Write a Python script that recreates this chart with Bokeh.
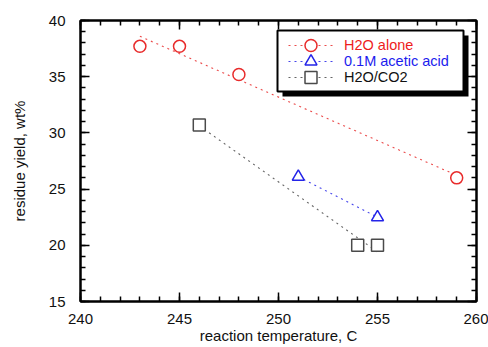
import numpy as np
from bokeh.plotting import figure
from bokeh.models import (Range1d, LinearAxis, FixedTicker, Legend, LegendItem,
                          BoxAnnotation)
from bokeh.embed import file_html
from bokeh.resources import INLINE

# ---------------- data ----------------
temp_h2o = [243, 245, 248, 259]
yield_h2o = [37.7, 37.7, 35.2, 26.0]

temp_acetic = [251, 255]
yield_acetic = [26.1, 22.5]

temp_co2 = [246, 254, 255]
yield_co2 = [30.7, 20.0, 20.0]

series_names = ["H2O alone", "0.1M acetic acid", "H2O/CO2"]
x_ticks = [240, 245, 250, 255, 260]
y_ticks = [15, 20, 25, 30, 35, 40]
x_title = "reaction temperature, C"
y_title = "residue yield, wt%"

# ---------------- style ----------------
FONT = "Liberation Sans"
RED = "#e82c2c"
BLUE = "#2424e8"
GRAY = "#4a4a4a"
TXT_COLORS = ["#ee1c1c", "#1c1cee", "#111111"]

p = figure(width=488, height=347, output_backend="svg", toolbar_location=None,
           x_range=Range1d(x_ticks[0], x_ticks[-1]),
           y_range=Range1d(y_ticks[0], y_ticks[-1]),
           min_border_left=80, min_border_right=12, min_border_top=20,
           min_border_bottom=46, x_axis_label=x_title, y_axis_label=y_title)
p.grid.visible = False
p.outline_line_color = "black"
p.outline_line_width = 2
p.background_fill_color = "white"
p.border_fill_color = "white"

x_minor = list(np.arange(x_ticks[0], x_ticks[-1] + 1, 1))
y_minor = list(np.arange(y_ticks[0], y_ticks[-1] + 1, 1))


def style_axis(ax, ticks, minor, labels=True):
    ax.ticker = FixedTicker(ticks=ticks, minor_ticks=minor)
    ax.axis_line_width = 2
    ax.axis_line_color = "black"
    ax.major_tick_in = 9
    ax.major_tick_out = 0
    ax.minor_tick_in = 5
    ax.minor_tick_out = 0
    ax.major_tick_line_width = 1.5
    ax.minor_tick_line_width = 1.5
    ax.major_tick_line_color = "black"
    ax.minor_tick_line_color = "black"
    ax.major_label_text_font = FONT
    ax.axis_label_text_font = FONT
    ax.axis_label_text_font_size = "15px"
    ax.axis_label_text_font_style = "normal"
    ax.axis_label_text_color = "#111111"
    if labels:
        ax.major_label_text_font_size = "15px"
        ax.major_label_text_color = "#111111"
    else:
        ax.major_label_text_font_size = "1px"
        ax.major_label_text_color = None
        ax.major_label_standoff = 0


style_axis(p.xaxis[0], x_ticks, x_minor)
p.xaxis[0].major_label_standoff = 12
p.xaxis[0].axis_label_standoff = 0
style_axis(p.yaxis[0], y_ticks, y_minor)
p.yaxis[0].major_label_standoff = 15
p.yaxis[0].axis_label_standoff = 18

top_ax = LinearAxis()
style_axis(top_ax, x_ticks, x_minor, labels=False)
p.add_layout(top_ax, "above")
right_ax = LinearAxis()
style_axis(right_ax, y_ticks, y_minor, labels=False)
p.add_layout(right_ax, "right")


def fit_line(xs, ys):
    k, b = np.polyfit(xs, ys, 1)
    xf = np.array([min(xs), max(xs)], dtype=float)
    return xf, k * xf + b


series = [
    (temp_h2o, yield_h2o, RED, "circle"),
    (temp_acetic, yield_acetic, BLUE, "triangle"),
    (temp_co2, yield_co2, GRAY, "square"),
]

fit_renderers = []
for xs, ys, col, mk in series:
    xf, yf = fit_line(xs, ys)
    lr = p.line(xf, yf, line_color=col, line_width=1.1, line_alpha=0.85,
                line_dash="2 4")
    fit_renderers.append(lr)
marker_renderers = []
for xs, ys, col, mk in series:
    mr = p.scatter(xs, ys, marker=mk, size=12, line_color=col, line_width=1.5,
                   fill_color="white")
    marker_renderers.append(mr)

# legend frame with drop shadow (frame-relative pixel units)
p.add_layout(BoxAnnotation(left=202, right=388, bottom=205, top=266,
                           left_units="screen", right_units="screen",
                           bottom_units="screen", top_units="screen",
                           fill_color="black", fill_alpha=1, line_color=None))
p.add_layout(BoxAnnotation(left=197, right=383, bottom=210, top=271,
                           left_units="screen", right_units="screen",
                           bottom_units="screen", top_units="screen",
                           fill_color="white", fill_alpha=1, line_color="black",
                           line_width=2, line_alpha=1))

row_bottoms = [241, 225, 209]
for i, name in enumerate(series_names):
    lg = Legend(items=[LegendItem(label=name,
                                  renderers=[fit_renderers[i], marker_renderers[i]])],
                location=(208, row_bottoms[i]), padding=0, spacing=0,
                glyph_width=45, glyph_height=30, label_standoff=11,
                label_text_font=FONT, label_text_font_size="14.5px",
                label_text_color=TXT_COLORS[i], background_fill_alpha=0,
                border_line_color=None, margin=0)
    p.add_layout(lg)

open("out.html", "w").write(file_html(p, INLINE))
